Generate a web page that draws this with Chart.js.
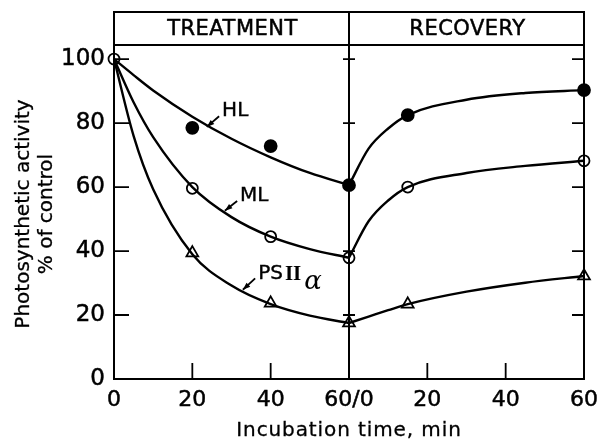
<!DOCTYPE html>
<html>
<head>
<meta charset="UTF-8">
<title>Photosynthetic activity</title>
<script src="https://cdn.jsdelivr.net/npm/chart.js"></script>
<style>
  html, body { margin: 0; padding: 0; background: #fff; }
  #wrap { width: 600px; height: 446px; }
</style>
</head>
<body>
<div id="wrap"><canvas id="chart" width="600" height="446"></canvas></div>
<script>
// measured points (minutes; recovery times are counted from the end of treatment)
const treatTimes = [0, 20, 40, 60];
const recovTimes = [15, 60];
const hlTreat = [null, 78.5, 72.8, 60.6];
const hlRecov = [82.5, 90.3];
const mlTreat = [100, 59.6, 44.5, 37.9];
const mlRecov = [60, 68.2];
const psTreat = [null, 39.4, 23.7, 17.5];
const psRecov = [23.4, 32.2];

// fitted curves
const curveTreatTimes = [0, 5, 10, 20, 30, 40, 50, 60];
const hlCurveTreat = [100, 95, 90.2, 82, 75.1, 69.3, 64.4, 60.6];
const mlCurveTreat = [100, 86.5, 75.6, 60, 50.6, 44.5, 40.6, 37.9];
const psCurveTreat = [100, 76, 59.3, 39, 29.2, 23.4, 19.8, 17.5];
const curveRecovTimes = [0, 5, 10, 15, 30, 45, 60];
const hlCurveRecov = [60.6, 72, 78.3, 82.5, 87.3, 89.4, 90.3];
const mlCurveRecov = [37.9, 49.3, 55.8, 60, 64.4, 66.6, 68.2];
const psCurveRecov = [17.5, 19.5, 21.5, 23.4, 27.3, 30.1, 32.2];

const yTicks = [0, 20, 40, 60, 80, 100];
const xTicks = [0, 20, 40, 60, 80, 100, 120];
const xTickLabels = ['0', '20', '40', '60/0', '20', '40', '60'];
const phases = ['TREATMENT', 'RECOVERY'];

const TREAT_LEN = 60;
const FONT = '"DejaVu Sans", sans-serif';

function pts(times, vals, offset) {
  return times.map((t, i) => ({ x: t + offset, y: vals[i] })).filter(p => p.y !== null);
}

function curve(times, vals, offset) {
  return {
    type: 'line',
    data: pts(times, vals, offset),
    borderColor: '#000',
    borderWidth: 2.4,
    pointRadius: 0,
    fill: false,
    cubicInterpolationMode: 'monotone',
    clip: false
  };
}

function markers(data, style, filled, radius) {
  return {
    type: 'scatter',
    data: data,
    pointStyle: style,
    pointRadius: radius,
    backgroundColor: filled ? '#000' : '#fff',
    borderColor: '#000',
    borderWidth: 1.8,
    clip: false
  };
}

// text with a hairline stroke so it reads as heavy as the print
function heavyText(ctx, text, x, y, w) {
  ctx.lineWidth = w;
  ctx.strokeText(text, x, y);
  ctx.fillText(text, x, y);
}

const frame = {
  id: 'frame',
  afterDatasetsDraw(chart) {
    const { ctx, chartArea: a, scales: { x, y } } = chart;
    const mid = x.getPixelForValue(TREAT_LEN);
    const top = 12;
    ctx.save();
    ctx.strokeStyle = '#000';
    ctx.lineWidth = 2;
    ctx.lineCap = 'square';
    ctx.beginPath();
    // box + header band
    ctx.moveTo(a.left, a.bottom); ctx.lineTo(a.right, a.bottom);
    ctx.moveTo(a.left, a.bottom); ctx.lineTo(a.left, top);
    ctx.lineTo(a.right, top); ctx.lineTo(a.right, a.bottom);
    ctx.moveTo(a.left, a.top); ctx.lineTo(a.right, a.top);
    ctx.moveTo(mid, top); ctx.lineTo(mid, a.bottom);
    ctx.stroke();

    // inward ticks
    ctx.lineWidth = 1.8;
    ctx.lineCap = 'butt';
    ctx.beginPath();
    xTicks.forEach(v => {
      if (v === 0 || v === TREAT_LEN || v === 120) return;
      const px = x.getPixelForValue(v);
      ctx.moveTo(px, a.bottom); ctx.lineTo(px, a.bottom - 16);
    });
    yTicks.forEach(v => {
      if (v === 0) return;
      const py = y.getPixelForValue(v);
      ctx.moveTo(a.left, py); ctx.lineTo(a.left + 15, py);
      ctx.moveTo(a.right, py); ctx.lineTo(a.right - 12, py);
      ctx.moveTo(mid - 6, py); ctx.lineTo(mid + 6, py);
    });
    ctx.stroke();

    // header text
    ctx.fillStyle = '#000';
    ctx.textAlign = 'center';
    ctx.textBaseline = 'middle';
    ctx.font = '21px ' + FONT;
    ctx.letterSpacing = '0.5px';
    heavyText(ctx, phases[0], (a.left + mid) / 2 + 1, (top + a.top) / 2 + 1, 0.5);
    heavyText(ctx, phases[1], (mid + a.right) / 2 + 1, (top + a.top) / 2 + 1, 0.5);

    // axis titles
    ctx.font = '20px ' + FONT;
    ctx.letterSpacing = '0.9px';
    heavyText(ctx, 'Incubation time, min', mid, 431, 0.3);
    ctx.letterSpacing = '0px';
    ctx.save();
    ctx.translate(24, 214);
    ctx.rotate(-Math.PI / 2);
    heavyText(ctx, 'Photosynthetic activity', 0, 0, 0.3);
    heavyText(ctx, '% of control', 0, 23, 0.3);
    ctx.restore();

    // curve labels with arrows
    const label = (text, vx, vy, ax, ay) => {
      const tx = x.getPixelForValue(vx), ty = y.getPixelForValue(vy);
      const px = x.getPixelForValue(ax), py = y.getPixelForValue(ay);
      ctx.textAlign = 'left';
      ctx.font = '20px ' + FONT;
      heavyText(ctx, text, tx, ty, 0.4);
      const sx = tx - 3, sy = ty + 5;
      ctx.beginPath();
      ctx.lineWidth = 1.8;
      ctx.moveTo(sx, sy); ctx.lineTo(px, py);
      ctx.stroke();
      const ang = Math.atan2(py - sy, px - sx);
      ctx.beginPath();
      ctx.moveTo(px, py);
      ctx.lineTo(px - 8 * Math.cos(ang - 0.35), py - 8 * Math.sin(ang - 0.35));
      ctx.lineTo(px - 8 * Math.cos(ang + 0.35), py - 8 * Math.sin(ang + 0.35));
      ctx.closePath();
      ctx.fill();
    };
    label('HL', 27.6, 83.7, 23.7, 78.8);
    label('ML', 32.2, 57.2, 28.3, 52.6);
    label('PS', 36.8, 33, 32.9, 27.9);
    ctx.font = '20px ' + FONT;
    const psx = x.getPixelForValue(36.8) + ctx.measureText('PS').width;
    const psy = y.getPixelForValue(33);
    ctx.font = 'bold 21px "Liberation Serif", serif';
    ctx.textAlign = 'left';
    ctx.fillText('II', psx + 2, psy + 1);
    const iiw = ctx.measureText('II').width;
    ctx.font = 'italic 26px "DejaVu Serif", serif';
    ctx.fillText('α', psx + iiw + 5, psy + 9);
    ctx.restore();
  }
};

new Chart(document.getElementById('chart'), {
  data: {
    datasets: [
      curve(curveTreatTimes, hlCurveTreat, 0),
      curve(curveRecovTimes, hlCurveRecov, TREAT_LEN),
      curve(curveTreatTimes, mlCurveTreat, 0),
      curve(curveRecovTimes, mlCurveRecov, TREAT_LEN),
      curve(curveTreatTimes, psCurveTreat, 0),
      curve(curveRecovTimes, psCurveRecov, TREAT_LEN),
      markers(pts(treatTimes, hlTreat, 0).concat(pts(recovTimes, hlRecov, TREAT_LEN)), 'circle', true, 6),
      markers(pts(treatTimes, mlTreat, 0).concat(pts(recovTimes, mlRecov, TREAT_LEN)), 'circle', false, 5.5),
      markers(pts(treatTimes, psTreat, 0).concat(pts(recovTimes, psRecov, TREAT_LEN)), 'triangle', false, 6.8)
    ]
  },
  options: {
    responsive: false,
    animation: false,
    layout: { padding: { left: 0, right: 16, top: 45, bottom: 0 } },
    plugins: { legend: { display: false }, tooltip: { enabled: false } },
    scales: {
      x: {
        type: 'linear',
        min: 0,
        max: 120,
        afterFit(s) { s.height = 67; },
        afterBuildTicks(s) { s.ticks = xTicks.map(v => ({ value: v })); },
        grid: { display: false },
        border: { display: false },
        ticks: {
          color: '#000',
          padding: 0,
          maxRotation: 0,
          autoSkip: false,
          textStrokeColor: '#000',
          textStrokeWidth: 0.5,
          font: { family: FONT, size: 22 },
          callback: (v) => xTickLabels[xTicks.indexOf(v)]
        }
      },
      y: {
        min: 0,
        max: 104.4,
        afterFit(s) { s.width = 114; },
        afterBuildTicks(s) { s.ticks = yTicks.map(v => ({ value: v })); },
        grid: { display: false },
        border: { display: false },
        ticks: {
          color: '#000',
          padding: 1,
          textStrokeColor: '#000',
          textStrokeWidth: 0.5,
          font: { family: FONT, size: 23 }
        }
      }
    }
  },
  plugins: [frame]
});
</script>
</body>
</html>
